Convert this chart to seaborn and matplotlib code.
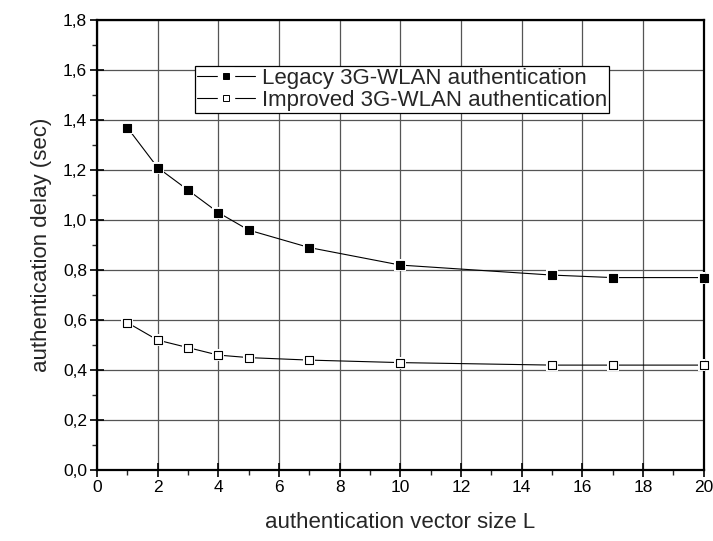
import matplotlib
matplotlib.use('Agg')
import matplotlib.pyplot as plt
import seaborn as sns
from matplotlib.lines import Line2D
from matplotlib.legend_handler import HandlerTuple
from matplotlib.ticker import MultipleLocator, FuncFormatter

# Data
vector_size = [1, 2, 3, 4, 5, 7, 10, 15, 17, 20]
legacy_delay = [1.37, 1.21, 1.12, 1.03, 0.96, 0.89, 0.82, 0.78, 0.77, 0.77]
improved_delay = [0.59, 0.52, 0.49, 0.46, 0.45, 0.44, 0.43, 0.42, 0.42, 0.42]

sns.set_style('white')
plt.rcParams['font.family'] = ['Liberation Sans', 'DejaVu Sans']

fig = plt.figure(figsize=(7.13, 5.41), dpi=100)
ax = fig.add_axes([0.136, 0.131, 0.851, 0.832])

# lines first, then a white square under each marker so the line stops short of it
for ys, face in [(legacy_delay, 'black'), (improved_delay, 'white')]:
    sns.lineplot(x=vector_size, y=ys, ax=ax, color='black', lw=0.8, zorder=3)
    sns.scatterplot(x=vector_size, y=ys, ax=ax, marker='s', s=80,
                    color='white', edgecolor='white', linewidth=0, zorder=4)
    sns.scatterplot(x=vector_size, y=ys, ax=ax, marker='s', s=30,
                    color=face, edgecolor='black', linewidth=0.8, zorder=5,
                    clip_on=False)

ax.set_xlim(0, 20)
ax.set_ylim(0, 1.8)
ax.xaxis.set_major_locator(MultipleLocator(2))
ax.xaxis.set_minor_locator(MultipleLocator(1))
ax.yaxis.set_major_locator(MultipleLocator(0.2))
ax.yaxis.set_minor_locator(MultipleLocator(0.1))
ax.yaxis.set_major_formatter(FuncFormatter(lambda v, p: f'{v:.1f}'.replace('.', ',')))

ax.grid(True, which='major', color='#555555', lw=0.9)
ax.tick_params(which='major', direction='inout', length=10, width=1.2,
               labelsize=12.5, colors='black', pad=2)
ax.tick_params(which='minor', direction='out', length=3.5, width=1.0)
ax.tick_params(bottom=True, left=True, which='both')
for s in ax.spines.values():
    s.set_color('black')
    s.set_linewidth(1.6)

ax.set_xlabel('authentication vector size L', fontsize=16, labelpad=12)
ax.set_ylabel('authentication delay (sec)', fontsize=16, labelpad=8)

def legend_handle(face):
    line = Line2D([], [], color='black', lw=0.8)
    gap = Line2D([], [], ls='none', marker='s', markersize=11,
                 markerfacecolor='white', markeredgecolor='white')
    mark = Line2D([], [], ls='none', marker='s', markersize=5,
                  markerfacecolor=face, markeredgecolor='black', markeredgewidth=0.7)
    return (line, gap, mark)

handles = [legend_handle('black'), legend_handle('white')]
labels = ['Legacy 3G-WLAN authentication', 'Improved 3G-WLAN authentication']
leg = ax.legend(handles, labels, handler_map={tuple: HandlerTuple(ndivide=1, pad=0)},
                loc='upper left', bbox_to_anchor=(0.162, 0.898), fontsize=16,
                frameon=True, fancybox=False, edgecolor='black', framealpha=1,
                handlelength=2.6, handletextpad=0.3, borderpad=0.1,
                labelspacing=0.05, borderaxespad=0)
leg.get_frame().set_linewidth(0.9)
leg.set_zorder(10)

fig.savefig('out.png', dpi=100)
